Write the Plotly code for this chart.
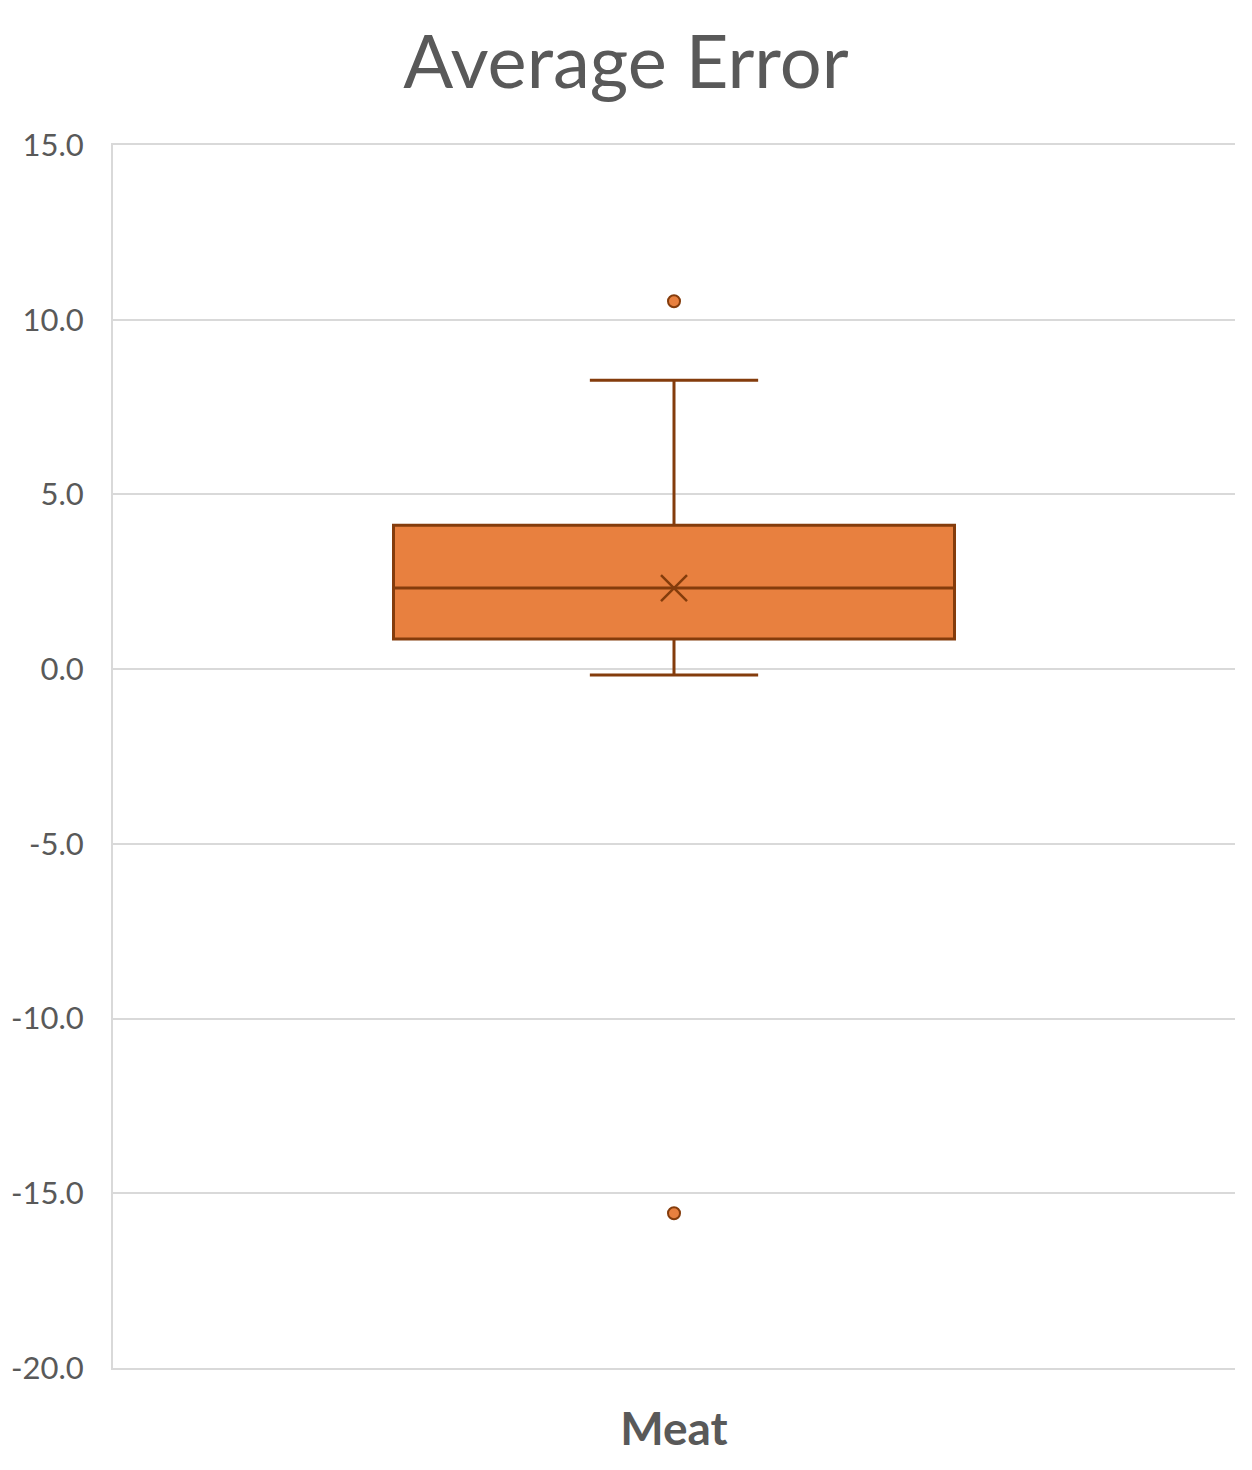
import plotly.graph_objects as go

# Box plot summary
category = ["Meat"]
q1 = [0.86]
median = [2.32]
q3 = [4.12]
lower_whisker = [-0.17]
upper_whisker = [8.27]
mean = [2.32]
outliers = [10.53, -15.57]

y_ticks = [15, 10, 5, 0, -5, -10, -15, -20]

fill = "#E8803F"
edge = "#843C0C"
grey_text = "#595959"
grid = "#D9D9D9"

fig = go.Figure()

fig.add_trace(go.Box(
    x=category,
    q1=q1,
    median=median,
    q3=q3,
    lowerfence=lower_whisker,
    upperfence=upper_whisker,
    fillcolor=fill,
    line=dict(color=edge, width=3),
    width=0.5,
    whiskerwidth=0.3,
    boxpoints=False,
    hoverinfo="y",
))

# mean marker
fig.add_trace(go.Scatter(
    x=category,
    y=mean,
    mode="markers",
    marker=dict(symbol="x-thin-open", size=26, color=edge, line=dict(color=edge, width=2.5)),
))

# outliers
fig.add_trace(go.Scatter(
    x=category * len(outliers),
    y=outliers,
    mode="markers",
    marker=dict(symbol="circle", size=12, color=fill, line=dict(color=edge, width=2)),
))

# page has an 8px body margin, so the figure is sized to fit inside it
fig.update_layout(
    width=1236,
    height=1454,
    margin=dict(l=105, r=9, t=137, b=94),
    paper_bgcolor="white",
    plot_bgcolor="white",
    showlegend=False,
    title=dict(
        text="Average Error",
        x=0.5,
        xanchor="center",
        y=0.963,
        yanchor="middle",
        font=dict(family="Lato", size=74, color=grey_text),
    ),
)

fig.update_xaxes(
    type="category",
    range=[-0.5, 0.5],
    automargin=False,
    showgrid=False,
    showline=True,
    mirror=True,
    linecolor=grid,
    linewidth=2,
    zeroline=False,
    ticks="",
    ticklabelstandoff=20,
    tickfont=dict(family="Lato", size=46, color=grey_text, weight="bold"),
)

fig.update_yaxes(
    range=[-20, 15],
    automargin=False,
    tickvals=y_ticks,
    ticktext=[f"{v:.1f}" for v in y_ticks],
    showgrid=True,
    gridcolor=grid,
    gridwidth=2,
    zeroline=False,
    showline=True,
    linecolor=grid,
    linewidth=2,
    ticks="",
    ticklabelstandoff=21,
    tickfont=dict(family="Lato", size=31, color=grey_text),
)

fig.write_html("out.html")
